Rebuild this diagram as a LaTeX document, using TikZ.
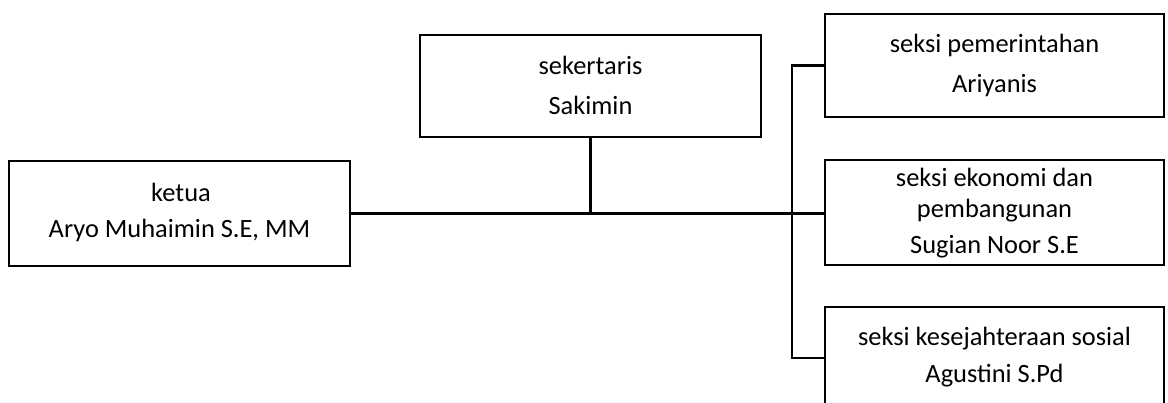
\documentclass[tikz,border=0pt]{standalone}
\usepackage{fontspec}
\setmainfont{Carlito}
\begin{document}
\begin{tikzpicture}[x=1pt,y=-1pt,
  box/.style={draw=black,line width=2.6pt,rectangle,inner sep=0pt,minimum width=#1},
  box/.default=339pt,
  txt/.style={anchor=base,inner sep=0pt,font=\fontsize{26.4}{30}\selectfont},
  conn/.style={draw=black,line width=2.6pt}]
\useasboundingbox (0,0) rectangle (1168,403);
% boxes
\node[box=341pt,minimum height=105pt] (ketua) at (179.5,213.5) {};
\node[box=341pt,minimum height=102pt] (sek) at (590.5,86) {};
\node[box,minimum height=103pt] (pem) at (994.5,65.5) {};
\node[box,minimum height=105pt] (eko) at (994.5,212.5) {};
\node[box,minimum height=102pt] (kes) at (994.5,358) {};
% texts
\node[txt] (t1) at (181,202) {ketua};
\node[txt] (t2) at (179.5,238) {Aryo Muhaimin S.E, MM};
\node[txt] (t3) at (590.5,75) {sekertaris};
\node[txt] (t4) at (590.5,115) {Sakimin};
\node[txt] (t5) at (994.5,53) {seksi pemerintahan};
\node[txt] (t6) at (994.5,93) {Ariyanis};
\node[txt] (t7) at (994.5,187) {seksi ekonomi dan};
\node[txt] (t8) at (994.5,218) {pembangunan};
\node[txt] (t9) at (994.5,254) {Sugian Noor S.E};
\node[txt] (t10) at (994.5,346) {seksi kesejahteraan sosial};
\node[txt] (t11) at (994.5,383) {Agustini S.Pd};
% connectors
\coordinate (bus) at (792,0);
\draw[conn] (ketua.east) -- (ketua.east -| eko.west);
\draw[conn] (sek.south) -- (sek.south |- ketua.east);
\draw[conn] (pem.west) -- (pem.west -| bus) -- (kes.west -| bus) -- (kes.west);
\end{tikzpicture}
\end{document}
